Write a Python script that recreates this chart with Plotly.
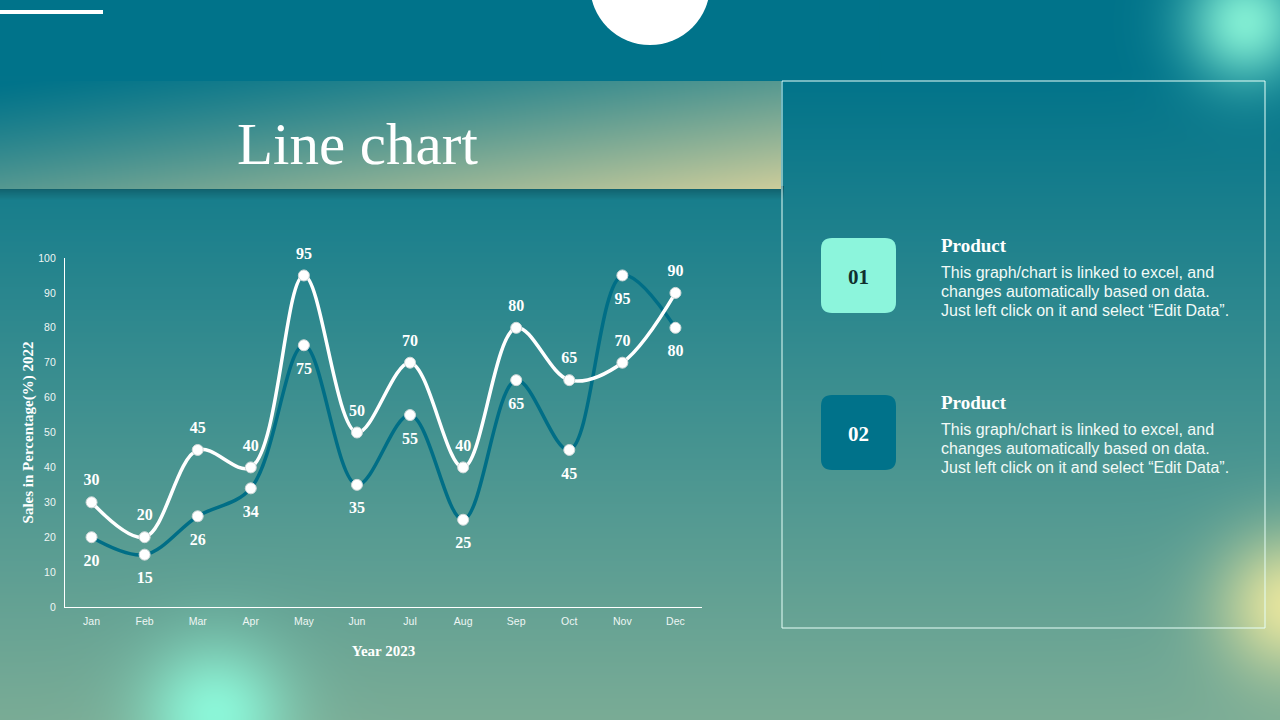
import base64
import struct
import zlib

import numpy as np
import plotly.graph_objects as go

# 数据
months = ["Jan", "Feb", "Mar", "Apr", "May", "Jun", "Jul", "Aug", "Sep", "Oct", "Nov", "Dec"]
series_light = [30, 20, 45, 40, 95, 50, 70, 40, 80, 65, 70, 90]
series_dark = [20, 15, 26, 34, 75, 35, 55, 25, 65, 45, 95, 80]
y_ticks = [0, 10, 20, 30, 40, 50, 60, 70, 80, 90, 100]

title_text = "Line chart"
x_title = "Year 2023"
y_title = "Sales in Percentage(%) 2022"
box_labels = ["01", "02"]
item_heading = "Product"
item_lines = [
    "This graph/chart is linked to excel, and",
    "changes automatically based on data.",
    "Just left click on it and select \u201cEdit Data\u201d.",
]

W, H = 1280, 720
SERIF = "Times New Roman, Liberation Serif, serif"
SANS = "Arial, Liberation Sans, sans-serif"
TEAL = "#00728A"


def px(x):
    return x / W


def py(y):
    return 1 - y / H


def png_uri(rgb):
    h, w, _ = rgb.shape
    raw = b"".join(b"\x00" + rgb[i].tobytes() for i in range(h))

    def chunk(tag, data):
        return (struct.pack(">I", len(data)) + tag + data
                + struct.pack(">I", zlib.crc32(tag + data) & 0xFFFFFFFF))

    png = (b"\x89PNG\r\n\x1a\n"
           + chunk(b"IHDR", struct.pack(">IIBBBBB", w, h, 8, 2, 0, 0, 0))
           + chunk(b"IDAT", zlib.compress(raw, 9))
           + chunk(b"IEND", b""))
    return "data:image/png;base64," + base64.b64encode(png).decode()


# 背景：竖直渐变 + 横幅 + 光斑
yy, xx = np.mgrid[0:H, 0:W].astype(float)
t = np.clip((yy - 70) / 650, 0, 1)[..., None]
img = np.array([0, 115, 138]) * (1 - t) + np.array([122, 172, 150]) * t

# 横幅阴影（柔和）
below = (xx < 784) & (yy >= 186) & (yy < 200)
fade = np.clip((yy - 186) / 14, 0, 1)
img[below] *= (0.68 + 0.32 * fade[below] ** 0.7)[..., None]

# 横幅斜向渐变
in_banner = (xx < 781) & (yy >= 81) & (yy < 189)
s = np.clip((xx / 780 + (yy - 81) / 108) / 2, 0, 1) ** 1.25
banner = np.array([0, 115, 138]) * (1 - s[..., None]) + np.array([205, 205, 155]) * s[..., None]
img[in_banner] = banner[in_banner]


def glow(img, cx, cy, r, color, a=1.0):
    d2 = ((xx - cx) ** 2 + (yy - cy) ** 2) / r ** 2
    w = (a * np.exp(-d2))[..., None]
    return img * (1 - w) + np.array(color) * w


img = glow(img, 215, 715, 72, [140, 246, 216])
img = glow(img, 1245, 22, 60, [128, 236, 210])
img = glow(img, 1290, 605, 72, [228, 228, 158])
bg_uri = png_uri(np.clip(img, 0, 255).astype(np.uint8))


def rounded_rect(x0, y0, x1, y1, r):
    pts = [
        f"M {px(x0 + r)},{py(y0)}",
        f"L {px(x1 - r)},{py(y0)}",
        f"Q {px(x1)},{py(y0)} {px(x1)},{py(y0 + r)}",
        f"L {px(x1)},{py(y1 - r)}",
        f"Q {px(x1)},{py(y1)} {px(x1 - r)},{py(y1)}",
        f"L {px(x0 + r)},{py(y1)}",
        f"Q {px(x0)},{py(y1)} {px(x0)},{py(y1 - r)}",
        f"L {px(x0)},{py(y0 + r)}",
        f"Q {px(x0)},{py(y0)} {px(x0 + r)},{py(y0)}",
        "Z",
    ]
    return " ".join(pts)


fig = go.Figure()

# 折线
for values, color in ((series_dark, "#006E86"), (series_light, "white")):
    fig.add_trace(
        go.Scatter(
            x=months,
            y=values,
            mode="lines+markers",
            line=dict(color=color, width=3.5, shape="spline", smoothing=1.0),
            marker=dict(size=11, color="white", line=dict(color="#cfd8d8", width=1)),
            cliponaxis=False,
            showlegend=False,
            hoverinfo="skip",
        )
    )

# 数据标签（透明标记用来拉开文字距离）
for values, pos, gap in ((series_dark, "bottom center", 25), (series_light, "top center", 19)):
    fig.add_trace(
        go.Scatter(
            x=months,
            y=values,
            mode="markers+text",
            marker=dict(size=gap, color="rgba(0,0,0,0)"),
            text=values,
            textposition=pos,
            textfont=dict(family=SERIF, size=16, color="white", weight="bold"),
            cliponaxis=False,
            showlegend=False,
            hoverinfo="skip",
        )
    )

shapes = [
    # 顶部白线和半圆
    dict(type="rect", xref="paper", yref="paper", x0=px(0), x1=px(103), y0=py(10), y1=py(14),
         fillcolor="white", line=dict(width=0)),
    dict(type="circle", xref="paper", yref="paper", x0=px(590), x1=px(710), y0=py(-75), y1=py(45),
         fillcolor="white", line=dict(width=0)),
    # 右侧面板
    dict(type="rect", xref="paper", yref="paper", x0=px(782), x1=px(1265), y0=py(81), y1=py(628),
         line=dict(color="#E6FFF8", width=1)),
    dict(type="path", xref="paper", yref="paper", path=rounded_rect(821, 238, 896, 313, 11),
         fillcolor="#8CF5DC", line=dict(width=0)),
    dict(type="path", xref="paper", yref="paper", path=rounded_rect(821, 395, 896, 470, 11),
         fillcolor=TEAL, line=dict(width=0)),
]


def note(text, x, y, font, xanchor="center"):
    return dict(text=text, x=px(x), y=py(y), xref="paper", yref="paper", showarrow=False,
                xanchor=xanchor, yanchor="middle", font=font)


annotations = [
    note(title_text, 357, 144, dict(family=SERIF, size=59, color="white")),
    note(box_labels[0], 858.5, 277, dict(family=SERIF, size=21, color="#10302E", weight="bold")),
    note(box_labels[1], 858.5, 434, dict(family=SERIF, size=21, color="white", weight="bold")),
]
for top in (245, 402):
    annotations.append(
        note(item_heading, 939, top, dict(family=SERIF, size=19, color="white", weight="bold"),
             xanchor="left")
    )
    for i, line in enumerate(item_lines):
        annotations.append(
            note(line, 939, top + 27 + 19 * i, dict(family=SANS, size=16, color="#F2FAF7"),
                 xanchor="left")
        )

fig.update_layout(
    width=W,
    height=H,
    margin=dict(l=0, r=0, t=0, b=0, pad=0, autoexpand=False),
    paper_bgcolor=TEAL,
    plot_bgcolor="rgba(0,0,0,0)",
    images=[dict(source=bg_uri, xref="paper", yref="paper", x=0, y=1, sizex=1, sizey=1,
                 sizing="stretch", xanchor="left", yanchor="top", layer="below")],
    shapes=shapes,
    annotations=annotations,
    xaxis=dict(
        domain=[px(65), px(702)],
        type="category",
        range=[-0.5, 11.5],
        showgrid=False,
        zeroline=False,
        showline=True,
        linecolor="white",
        linewidth=1.3,
        ticks="",
        ticklabelstandoff=4,
        tickfont=dict(family=SANS, size=10.5, color="#EEF6F4"),
        title=dict(text=x_title, standoff=19,
                   font=dict(family=SERIF, size=15, color="white", weight="bold")),
    ),
    yaxis=dict(
        domain=[py(607), py(258)],
        range=[0, 100],
        tickvals=y_ticks,
        showgrid=False,
        zeroline=False,
        showline=True,
        linecolor="white",
        linewidth=1.3,
        ticks="",
        ticklabelstandoff=6,
        tickfont=dict(family=SANS, size=10.5, color="#EEF6F4"),
        title=dict(text=y_title, standoff=0,
                   font=dict(family=SERIF, size=15, color="white", weight="bold")),
    ),
)

fig.write_html(
    "out.html",
    config={"displayModeBar": False},
    post_script="document.body.style.margin='0';document.body.style.overflow='hidden';",
)
